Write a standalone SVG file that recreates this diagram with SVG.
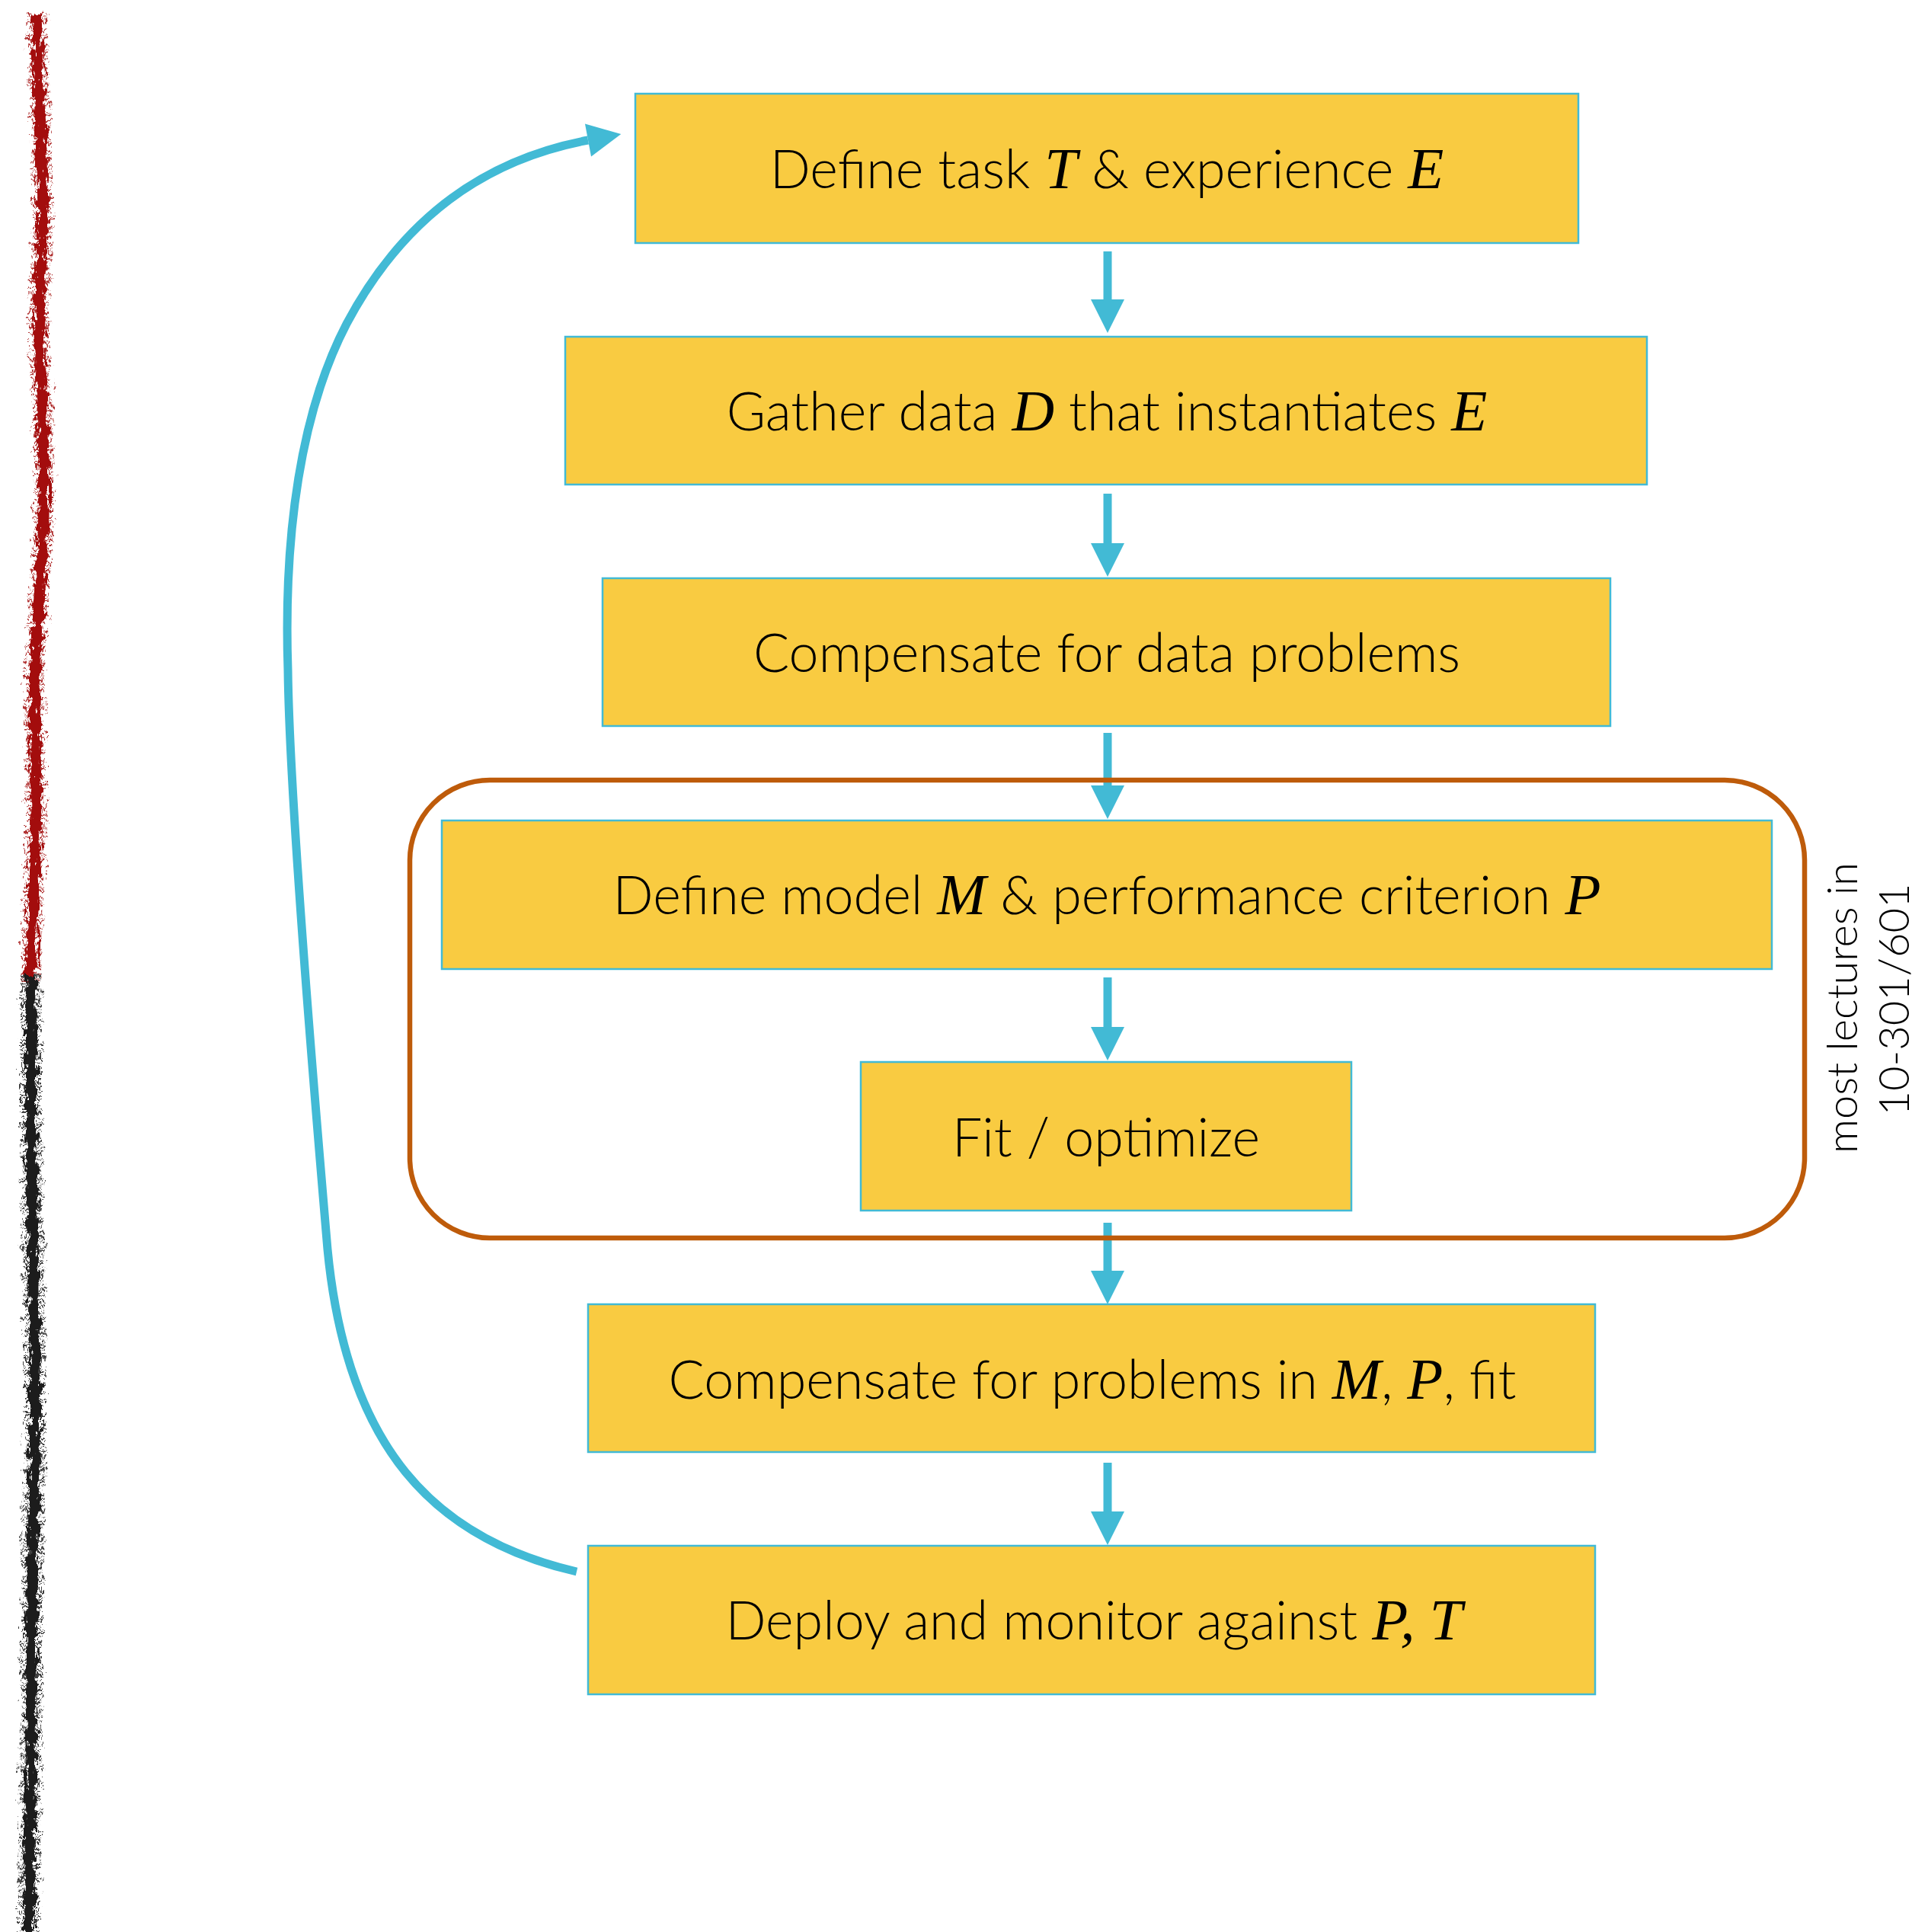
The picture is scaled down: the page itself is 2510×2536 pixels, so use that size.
<svg xmlns="http://www.w3.org/2000/svg" width="2510" height="2536" viewBox="0 0 2510 2536">
<style>
.box{fill:#F9CB41;stroke:#42BAD5;stroke-width:2.5}
.lbl{font-family:Lato,"Liberation Sans",sans-serif;font-size:70px;font-weight:300;fill:#000;text-anchor:middle}
.m{font-family:"Liberation Serif",serif;font-style:italic;font-size:77px;font-weight:400}
.conn{stroke:#42BAD5;stroke-width:11;fill:none}
.side{font-family:Lato,"Liberation Sans",sans-serif;font-size:56px;font-weight:300;fill:#000;text-anchor:middle}
</style>
<defs>
<marker id="ah" markerUnits="userSpaceOnUse" markerWidth="44" markerHeight="46" viewBox="0 -23 44 46" refX="0" refY="0" orient="auto" overflow="visible">
<path d="M0,-22 L44,0 L0,22 z" fill="#42BAD5"/>
</marker>
<filter id="rough" filterUnits="userSpaceOnUse" x="0" y="0" width="140" height="2536">
<feTurbulence type="fractalNoise" baseFrequency="0.2 0.07" numOctaves="3" seed="4" result="n"/>
<feDisplacementMap in="SourceGraphic" in2="n" scale="18" xChannelSelector="R" yChannelSelector="G"/>
</filter>
</defs>
<rect width="2510" height="2536" fill="#fff"/>

<g id="scribble" filter="url(#rough)" fill="none">
<path d="M48,18 C50,80 54,180 56,250 C58,330 48,380 52,450 C56,540 58,600 58,650 C58,720 50,780 46,880 C44,960 50,1040 46,1120 C44,1180 42,1230 40,1290" stroke="#A3110F" stroke-width="14"/>
<path d="M48,18 C50,80 54,180 56,250 C58,330 48,380 52,450 C56,540 58,600 58,650 C58,720 50,780 46,880 C44,960 50,1040 46,1120 C44,1180 42,1230 40,1290" stroke="#A3110F" stroke-width="26" stroke-dasharray="2 5 1 3 3 6" opacity="0.85"/>
<path d="M40,1280 C42,1360 40,1450 42,1550 C44,1650 46,1750 46,1850 C46,1950 42,2050 42,2150 C42,2250 38,2400 38,2536" stroke="#1C1C1C" stroke-width="14"/>
<path d="M40,1280 C42,1360 40,1450 42,1550 C44,1650 46,1750 46,1850 C46,1950 42,2050 42,2150 C42,2250 38,2400 38,2536" stroke="#1C1C1C" stroke-width="28" stroke-dasharray="3 4 1 5 2 3" opacity="0.85"/>
</g>

<g id="connectors">
<path class="conn" d="M1454,330 V393" marker-end="url(#ah)"/>
<path class="conn" d="M1454,648 V713" marker-end="url(#ah)"/>
<path class="conn" d="M1454,962 V1031" marker-end="url(#ah)"/>
<path class="conn" d="M1454,1283 V1348" marker-end="url(#ah)"/>
<path class="conn" d="M1454,1605 V1668" marker-end="url(#ah)"/>
<path class="conn" d="M1454,1920 V1984" marker-end="url(#ah)"/>
<path class="conn" d="M757,2063 C570,2020 455,1900 430,1640 C418,1500 380,1050 378,880 C372,700 395,540 455,425 C540,265 660,205 772,184" marker-end="url(#ah)"/>
</g>

<g id="group-frame">
<rect x="538" y="1024" width="1831" height="601" rx="105" ry="105" fill="none" stroke="#BE5B0A" stroke-width="6.5"/>
</g>

<g id="n1"><rect class="box" x="834" y="123" width="1238" height="196"/>
<text class="lbl" x="1453" y="247">Define task <tspan class="m">T</tspan> &amp; experience <tspan class="m">E</tspan></text></g>
<g id="n2"><rect class="box" x="742" y="442" width="1420" height="194"/>
<text class="lbl" x="1453" y="565">Gather data <tspan class="m">D</tspan> that instantiates <tspan class="m">E</tspan></text></g>
<g id="n3"><rect class="box" x="791" y="759" width="1323" height="194"/>
<text class="lbl" x="1453" y="882">Compensate for data problems</text></g>
<g id="n4"><rect class="box" x="580" y="1077" width="1746" height="195"/>
<text class="lbl" x="1453" y="1200">Define model <tspan class="m">M</tspan> &amp; performance criterion <tspan class="m">P</tspan></text></g>
<g id="n5"><rect class="box" x="1130" y="1394" width="644" height="195"/>
<text class="lbl" x="1452" y="1518">Fit / optimize</text></g>
<g id="n6"><rect class="box" x="772" y="1712" width="1322" height="194"/>
<text class="lbl" x="1434" y="1836">Compensate for problems in <tspan class="m">M</tspan>, <tspan class="m">P</tspan>, fit</text></g>
<g id="n7"><rect class="box" x="772" y="2029" width="1322" height="195"/>
<text class="lbl" x="1436" y="2152">Deploy and monitor against <tspan class="m">P</tspan><tspan class="m">, </tspan><tspan class="m">T</tspan></text></g>

<g id="side-note">
<text class="side" transform="translate(2438,1323) rotate(-90)">most lectures in</text>
<text class="side" transform="translate(2506,1312) rotate(-90)">10-301/601</text>
</g>
</svg>
